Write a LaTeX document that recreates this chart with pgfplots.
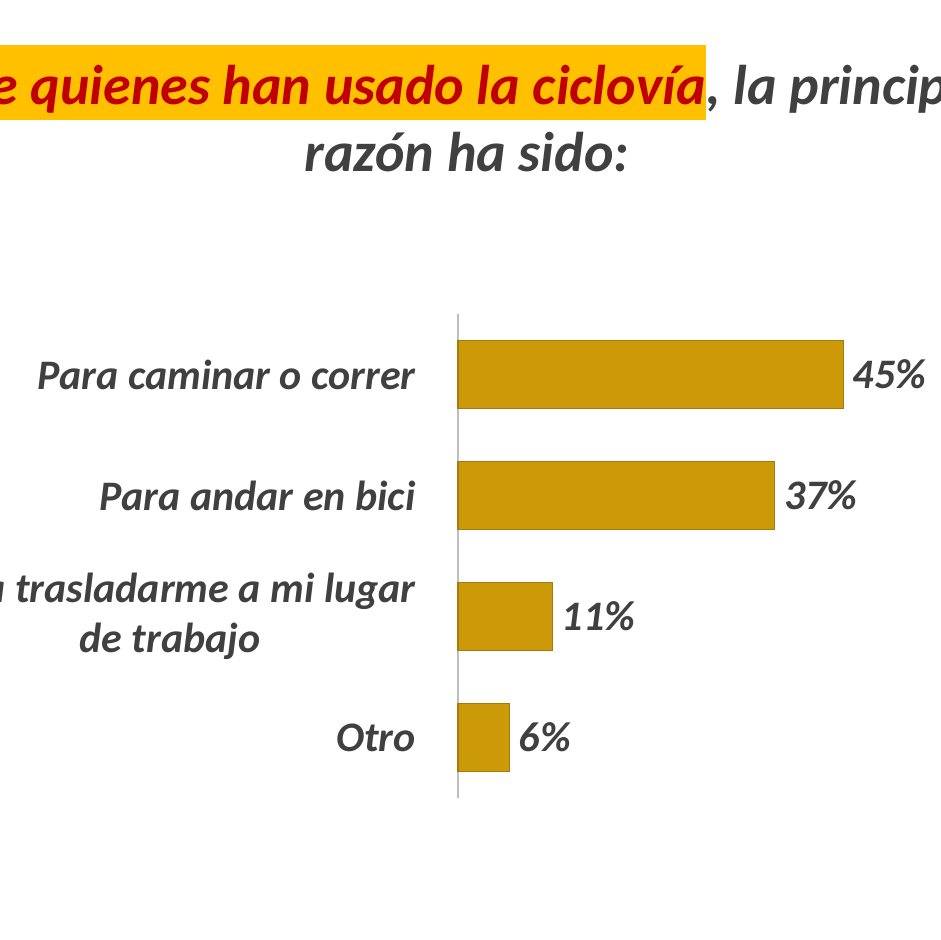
\documentclass[border=0pt]{standalone}
\usepackage{pgfplots}
\pgfplotsset{compat=1.18}
\usepackage{fontspec}
\setmainfont{Carlito}
\definecolor{barcol}{RGB}{204,154,8}
\definecolor{bardark}{RGB}{165,122,10}
\definecolor{txt}{RGB}{64,64,64}
\definecolor{hl}{RGB}{255,192,0}
\definecolor{titlered}{RGB}{192,0,0}
\begin{document}
\begin{tikzpicture}
\path[use as bounding box, clip] (0,0) rectangle (470pt,470pt);
\fill[white] (0,0) rectangle (470pt,470pt);
\fill[hl] (-20pt,410pt) rectangle (353pt,447.5pt);
\node[anchor=base east, inner sep=0pt, font=\fontsize{28}{34}\selectfont\bfseries\itshape, text=titlered] at (353pt,417.5pt) {Entre quienes han usado la ciclovía};
\node[anchor=base west, inner sep=0pt, font=\fontsize{28}{34}\selectfont\bfseries\itshape, text=txt] at (353pt,417.5pt) {, la principal};
\node[anchor=base, inner sep=0pt, font=\fontsize{28}{34}\selectfont\bfseries\itshape, text=txt] at (233.5pt,384pt) {razón ha sido:};
\begin{axis}[
  at={(229pt,71pt)}, anchor=south west,
  x=4.28pt, y=60.5pt,
  xmin=0, xmax=55, ymin=-0.5, ymax=3.5,
  xbar, bar width=34pt,
  axis x line=none, axis y line=left,
  axis line style={-, draw={rgb,255:red,190;green,190;blue,190}, line width=0.7pt},
  ytick={0,1,2,3},
  yticklabels={Otro, {Para trasladarme a mi lugar\\de trabajo}, Para andar en bici, Para caminar o correr},
  major tick length=0pt,
  yticklabel style={font=\fontsize{21}{25}\selectfont\bfseries\itshape, text=txt, align=center, inner sep=0pt, xshift=-21pt},
  /pgf/number format/assume math mode=true,
  point meta=x,
  nodes near coords={\pgfmathprintnumber{\pgfplotspointmeta}\%},
  nodes near coords style={font=\fontsize{21}{25}\selectfont\bfseries\itshape, text=txt, inner sep=0pt, anchor=west, xshift=4.5pt},
  clip=false,
]
\addplot[fill=barcol, draw=bardark, line width=0.6pt] coordinates {(6,0) (11,1) (37,2) (45,3)};
\end{axis}
\end{tikzpicture}
\end{document}
